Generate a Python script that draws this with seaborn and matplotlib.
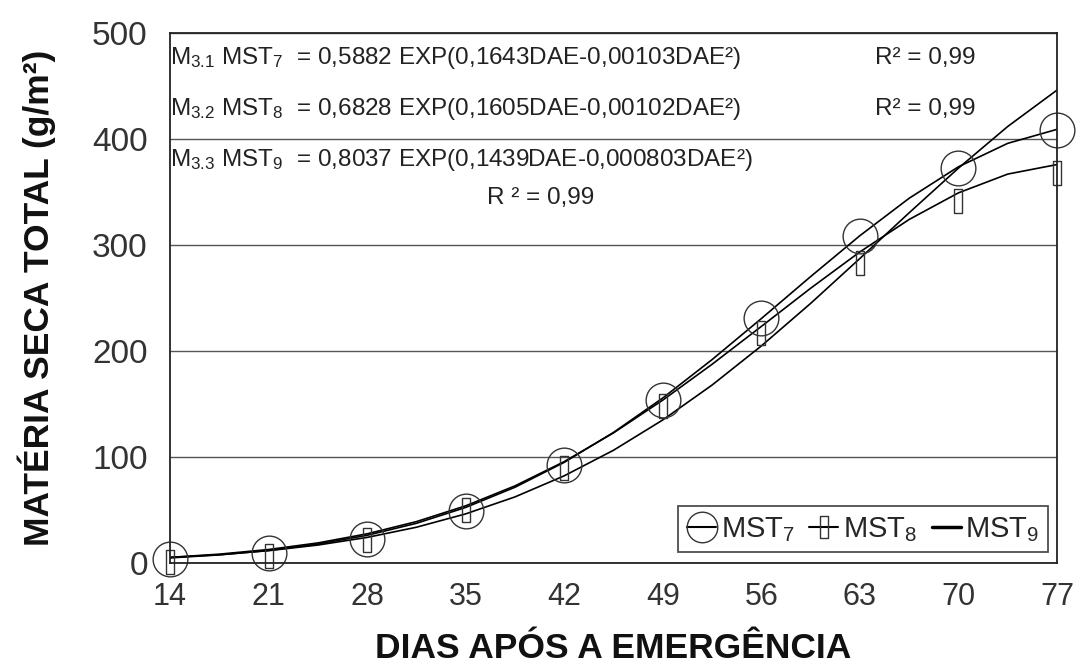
import numpy as np
import pandas as pd
import seaborn as sns
import matplotlib.pyplot as plt
from matplotlib.lines import Line2D

# observed points (DAE)
dae = [14, 21, 28, 35, 42, 49, 56, 63, 70, 77]
mst7_obs = [4, 9, 23, 49, 92, 154, 231, 308, 373, 408]
mst8_obs = [1, 7, 22, 50, 90, 148, 217, 283, 341, 368]

# fitted curves, every 3.5 days
dae_fit = [14, 17.5, 21, 24.5, 28, 31.5, 35, 38.5, 42, 45.5, 49, 52.5, 56,
           59.5, 63, 66.5, 70, 73.5, 77]
mst7_fit = [4.8, 7.6, 11.8, 17.8, 26.1, 37.4, 52.4, 71.4, 94.9, 123.1, 155.6,
            191.8, 230.5, 270.1, 308.7, 344.0, 373.7, 395.8, 409.0]
mst8_fit = [5.3, 8.3, 12.7, 18.9, 27.5, 39.0, 53.9, 72.7, 95.6, 122.7, 153.6,
            187.4, 223.1, 259.1, 293.4, 324.0, 349.1, 366.8, 375.8]
mst9_fit = [5.2, 7.8, 11.6, 16.9, 24.1, 33.7, 46.3, 62.3, 82.2, 106.3, 134.9,
            167.8, 204.7, 244.8, 287.2, 330.3, 372.4, 411.7, 446.0]

eq_lines = ["M$\\mathregular{_{3.1}}$ MST$\\mathregular{_7}$  = 0,5882 EXP(0,1643DAE-0,00103DAE²)",
            "M$\\mathregular{_{3.2}}$ MST$\\mathregular{_8}$  = 0,6828 EXP(0,1605DAE-0,00102DAE²)",
            "M$\\mathregular{_{3.3}}$ MST$\\mathregular{_9}$  = 0,8037 EXP(0,1439DAE-0,000803DAE²)"]

sns.set_style('white')
plt.rcParams['font.family'] = ['Liberation Sans', 'DejaVu Sans']
plt.rcParams['mathtext.fontset'] = 'custom'
plt.rcParams['mathtext.rm'] = 'Liberation Sans'

fig = plt.figure(figsize=(10.78, 6.71), dpi=100)
ax = fig.add_axes([0.1577, 0.161, 0.8228, 0.790])

fit = pd.DataFrame({'dae': dae_fit, 'MST7': mst7_fit, 'MST8': mst8_fit, 'MST9': mst9_fit})
for col in ['MST7', 'MST8', 'MST9']:
    sns.lineplot(data=fit, x='dae', y=col, ax=ax, color='black', lw=1.2, legend=False)

rect = [(-0.35, -1), (0.35, -1), (0.35, 1), (-0.35, 1), (-0.35, -1)]
obs = pd.DataFrame({'dae': dae, 'MST7': mst7_obs, 'MST8': mst8_obs})
ax.plot(obs['dae'], obs['MST8'], ls='none', marker=rect, ms=17, mfc='none', mec='#333333',
        mew=1.0, clip_on=False)
ax.plot(obs['dae'], obs['MST7'], ls='none', marker='o', ms=25, mfc='none', mec='#333333',
        mew=1.0, clip_on=False)

ax.set_xlim(14, 77)
ax.set_ylim(0, 500)
ax.set_xticks(dae)
ax.set_yticks(range(0, 501, 100))
ax.yaxis.grid(True, color='#555555', lw=1.0)
ax.set_axisbelow(True)
for s in ax.spines.values():
    s.set_color('#222222')
    s.set_linewidth(1.3)
ax.tick_params(axis='both', colors='#333333', direction='out', length=8, width=1)
ax.tick_params(axis='x', labelsize=22, pad=6)
ax.tick_params(axis='y', labelsize=24, pad=8)

ax.set_xlabel('DIAS APÓS A EMERGÊNCIA', fontsize=25.5, fontweight='bold', color='#111111', labelpad=14)
ax.set_ylabel('MATÉRIA SECA TOTAL (g/m²)', fontsize=25.5, fontweight='bold', color='#111111', labelpad=26)

ys = [0.953, 0.856, 0.760]
for t, y in zip(eq_lines, ys):
    ax.text(0.0, y, t, transform=ax.transAxes, fontsize=17.5, va='center', ha='left', color='#222222')
ax.text(0.795, 0.953, 'R² = 0,99', transform=ax.transAxes, fontsize=17.5, va='center', color='#222222')
ax.text(0.795, 0.856, 'R² = 0,99', transform=ax.transAxes, fontsize=17.5, va='center', color='#222222')
ax.text(0.357, 0.689, 'R ² = 0,99', transform=ax.transAxes, fontsize=17.5, va='center', color='#222222')

handles = [Line2D([], [], color='black', lw=1.5, marker='o', ms=22, mfc='none', mec='#333333'),
           Line2D([], [], color='black', lw=1.5, marker=rect, ms=16, mfc='none', mec='#333333'),
           Line2D([], [], color='black', lw=2.5)]
labels = ['MST$\\mathregular{_7}$', 'MST$\\mathregular{_8}$', 'MST$\\mathregular{_9}$']
leg = ax.legend(handles, labels, loc='lower right', bbox_to_anchor=(0.99, 0.02), ncol=3,
                fontsize=21, frameon=True, fancybox=False, handlelength=1.0, handletextpad=0.15,
                columnspacing=0.5, borderpad=0.3, borderaxespad=0)
leg.get_frame().set_edgecolor('#222222')
leg.get_frame().set_linewidth(1.3)

fig.savefig('out.png', dpi=100)
